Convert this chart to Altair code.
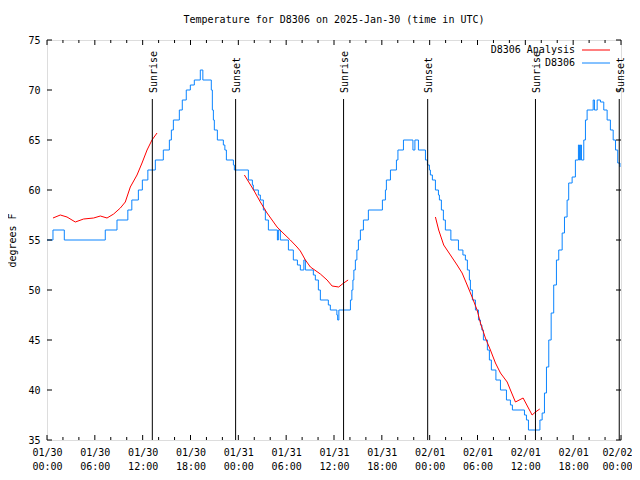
import altair as alt
import pandas as pd

# ---------------- data (hours since 2025-01-30 00:00 UTC) ----------------
obs_hours = [0, 0.75, 2.17, 7.31, 8.78, 10.14, 10.64, 11.46, 11.96, 12.65, 13.59, 14.59,
             15.35, 15.60, 15.85, 16.60, 16.97, 17.47, 17.98, 18.48, 19.23, 19.55, 20.61,
             20.74, 20.87, 20.99, 21.37, 22.12, 22.31, 22.50, 23.38, 23.50, 25.26, 25.76,
             25.88, 26.51, 26.76, 27.14, 27.39, 27.77, 28.90, 29.02, 29.27, 30.28, 30.90,
             31.41, 31.78, 32.22, 32.41, 33.41, 33.66, 34.04, 34.29, 35.29, 35.54, 36.36,
             36.46, 36.61, 38.06, 38.24, 38.37, 38.49, 38.68, 38.87, 39.06, 39.31, 39.69,
             40.31, 42.07, 42.45, 42.57, 43.08, 43.83, 44.02, 44.71, 45.90, 46.15, 46.59,
             47.47, 47.72, 47.97, 48.09, 48.34, 48.72, 49.10, 49.22, 49.47, 49.72, 49.97,
             50.66, 51.61, 52.17, 52.48, 52.73, 52.98, 53.11, 53.36, 53.74, 54.12, 54.37,
             54.55, 54.74, 55.24, 55.49, 55.74, 56.31, 56.88, 57.63, 58.13, 58.38, 59.89,
             60.14, 60.39, 61.83, 62.11, 62.40, 62.65, 62.94, 63.24, 63.56, 63.90, 64.19,
             64.62, 64.91, 65.24, 65.44, 65.87, 66.28, 66.66, 66.79, 66.91, 67.04, 67.33,
             67.54, 67.75, 68.51, 68.67, 69.01, 69.42, 69.84, 70.26, 70.67, 71.02, 71.31,
             71.59, 71.87]
obs_temps = [55, 56, 55, 56, 57, 58, 59, 60, 61, 62, 63, 64,
             65, 66, 67, 68, 69, 70, 70.5, 71, 72, 71, 70,
             68, 67, 66, 65, 64.5, 64, 63, 62.5, 62, 61, 60.5,
             60, 59.5, 59, 58, 57, 56, 55, 56, 55, 54, 53,
             52.5, 52, 53, 52, 51.5, 51, 50, 49, 48.5, 48, 47.5,
             47, 48, 49, 50, 51, 52, 53, 54, 55, 56, 57,
             58, 59, 60, 61, 62, 63, 64, 65, 64, 65, 64,
             63, 62.5, 62, 61.5, 61, 60, 59.5, 59, 58, 57, 56,
             55, 54, 53.5, 53, 52, 51, 50, 49, 48, 47, 46.5,
             46, 45, 44, 43, 42, 41, 40, 39, 38.5, 38, 37.5,
             37, 36, 37, 37.7, 39.7, 42.3, 45, 47.7, 50.5, 53, 54,
             55.7, 57.3, 59, 60.7, 61.3, 63, 64.5, 63, 64.5, 63, 65,
             67, 68, 69, 68, 69, 68.8, 68, 67, 66, 65, 64,
             62.7, 62.3]

ana1_hours = [0.75, 1.67, 2.51, 3.55, 4.59, 5.85, 6.69, 7.53, 8.36, 9.20, 9.82, 10.45,
              11.29, 11.92, 12.55, 13.17, 13.80]
ana1_temps = [57.2, 57.5, 57.3, 56.8, 57.1, 57.2, 57.4, 57.2, 57.6, 58.2, 58.8, 60.3,
              61.5, 62.7, 64.0, 65.0, 65.7]
ana2_hours = [24.76, 25.92, 26.76, 27.60, 28.86, 29.48, 30.52, 31.36, 31.78, 32.41, 33.04,
              34.29, 35.13, 35.76, 36.59, 37.21, 37.77]
ana2_temps = [61.5, 60.0, 58.8, 57.7, 56.3, 55.8, 55.0, 54.3, 53.9, 53.0, 52.3,
              51.6, 51.0, 50.4, 50.3, 50.7, 51.0]
ana3_hours = [48.72, 49.13, 49.76, 50.60, 51.44, 52.07, 52.70, 53.32, 53.95, 54.37, 54.99,
              55.62, 56.25, 56.88, 57.72, 58.13, 58.76, 59.72, 60.85, 61.27, 61.81]
ana3_temps = [57.3, 56.0, 54.5, 53.5, 52.5, 51.7, 50.5, 49.3, 48.0, 46.7, 45.2,
              44.0, 42.7, 41.7, 40.8, 40.0, 38.8, 39.2, 37.5, 37.8, 38.1]

sun_hours = [13.21, 23.66, 37.20, 47.75, 61.27, 71.78]
sun_labels = ["Sunrise", "Sunset", "Sunrise", "Sunset", "Sunrise", "Sunset"]

x_tick_hours = [0, 6, 12, 18, 24, 30, 36, 42, 48, 54, 60, 66, 72]
x_tick_dates = ["01/30", "01/30", "01/30", "01/30", "01/31", "01/31", "01/31", "01/31",
                "02/01", "02/01", "02/01", "02/01", "02/02"]
x_tick_times = ["00:00", "06:00", "12:00", "18:00", "00:00", "06:00", "12:00", "18:00",
                "00:00", "06:00", "12:00", "18:00", "00:00"]
x_minor_hours = [2, 4, 8, 10, 14, 16, 20, 22, 26, 28, 32, 34, 38, 40, 44, 46, 50, 52,
                 56, 58, 62, 64, 68, 70]
y_tick_values = [35, 40, 45, 50, 55, 60, 65, 70, 75]

series_names = ["D8306 Analysis", "D8306"]
series_colors = ["#ff0000", "#0a84ff"]
title_text = "Temperature for D8306 on 2025-Jan-30 (time in UTC)"

# ---------------- chart ----------------
W, H = 574, 400
FONT = "DejaVu Sans Mono"
FS = 10

obs = pd.DataFrame({"h": obs_hours, "t": obs_temps})
ana = pd.concat([
    pd.DataFrame({"h": ana1_hours, "t": ana1_temps, "seg": 1}),
    pd.DataFrame({"h": ana2_hours, "t": ana2_temps, "seg": 2}),
    pd.DataFrame({"h": ana3_hours, "t": ana3_temps, "seg": 3}),
])
sun = pd.DataFrame({"h": sun_hours, "label": sun_labels})
xmaj = pd.DataFrame({"h": x_tick_hours})
xmin = pd.DataFrame({"h": x_minor_hours})
ytk = pd.DataFrame({"t": y_tick_values})

label_expr = "[" + ",".join(f"['{d}','{t}']" for d, t in zip(x_tick_dates, x_tick_times)) + "][round(datum.value/6)]"

xscale = alt.Scale(domain=[0, 72], nice=False, zero=False)
yscale = alt.Scale(domain=[35, 75], nice=False, zero=False)

xenc = alt.X("h:Q", scale=xscale, title=None,
             axis=alt.Axis(values=x_tick_hours, labelExpr=label_expr, ticks=False, grid=False,
                           domain=False, labelFont=FONT, labelFontSize=FS, labelColor="black",
                           labelPadding=7, labelLineHeight=14, labelFlush=False,
                           labelOffset={"condition": {"test": "datum.value >= 72", "value": -4},
                                        "value": 0}))
yenc = alt.Y("t:Q", scale=yscale, title="degrees F",
             axis=alt.Axis(values=y_tick_values, ticks=False, grid=False, domain=False,
                           labelFont=FONT, labelFontSize=FS, labelColor="black",
                           labelPadding=7, titleFont=FONT, titleFontSize=FS,
                           titleFontWeight="normal", titleColor="black", titlePadding=10))

blue = alt.Chart(obs).mark_line(interpolate="step-after", color=series_colors[1],
                                strokeWidth=1).encode(x=xenc, y=yenc)
red = alt.Chart(ana).mark_line(color=series_colors[0], strokeWidth=1).encode(
    x=alt.X("h:Q", scale=xscale), y=alt.Y("t:Q", scale=yscale), detail="seg:N")

sun_rules = alt.Chart(sun).mark_rule(color="black", strokeWidth=1).encode(
    x=alt.X("h:Q", scale=xscale), y=alt.value(59), y2=alt.value(H))
sun_text = alt.Chart(sun).mark_text(angle=270, align="left", baseline="middle", dy=1.5,
                                    font=FONT, fontSize=FS, color="black").encode(
    x=alt.X("h:Q", scale=xscale), y=alt.value(53), text="label:N")

def xticks(df, length):
    b = alt.Chart(df).mark_rule(color="black", strokeWidth=1).encode(
        x=alt.X("h:Q", scale=xscale), y=alt.value(H), y2=alt.value(H - length))
    t = alt.Chart(df).mark_rule(color="black", strokeWidth=1).encode(
        x=alt.X("h:Q", scale=xscale), y=alt.value(0), y2=alt.value(length))
    return b + t

yl = alt.Chart(ytk).mark_rule(color="black", strokeWidth=1).encode(
    y=alt.Y("t:Q", scale=yscale), x=alt.value(0), x2=alt.value(5))
yr = alt.Chart(ytk).mark_rule(color="black", strokeWidth=1).encode(
    y=alt.Y("t:Q", scale=yscale), x=alt.value(W), x2=alt.value(W - 5))

leg_rows = [10, 23]
leg_layers = []
for name, color, ry in zip(series_names, series_colors, leg_rows):
    d = pd.DataFrame({"name": [name]})
    leg_layers.append(alt.Chart(d).mark_text(align="right", baseline="middle", font=FONT,
                                             fontSize=FS, color="black").encode(
        x=alt.value(528), y=alt.value(ry), text="name:N"))
    leg_layers.append(alt.Chart(d).mark_rule(strokeWidth=1, color=color).encode(
        x=alt.value(535), x2=alt.value(563), y=alt.value(ry)))

title = alt.Chart(pd.DataFrame({"t": [title_text]})).mark_text(
    align="center", baseline="alphabetic", font=FONT, fontSize=FS, color="black").encode(
    x=alt.value(W / 2), y=alt.value(-17), text="t:N")

chart = alt.layer(
    blue, red, sun_rules, sun_text,
    xticks(xmaj, 5), xticks(xmin, 3), yl, yr,
    *leg_layers, title
).properties(
    width=W, height=H,
    autosize=alt.AutoSizeParams(type="none"),
    padding={"left": 39, "top": 32, "right": 11, "bottom": 32},
).configure_view(stroke="black", strokeWidth=1).configure(background="white")

chart.save("out.html", embed_options={"renderer": "svg", "actions": False})
